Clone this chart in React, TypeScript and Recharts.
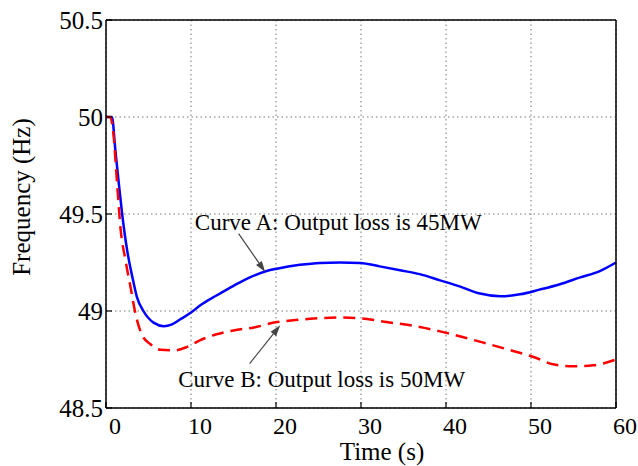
import React from 'react';
import {
  LineChart,
  Line,
  XAxis,
  YAxis,
  CartesianGrid,
  ReferenceLine,
  ReferenceDot,
} from 'recharts';

// Curve A: output loss 45MW (solid blue)
const curveATime = [0, 0.7, 1.1, 1.5, 1.9, 2.5, 3.1, 3.65, 4.4, 5.6, 6.8, 7.7, 8.7, 10, 11.1, 13, 15, 17, 18.9, 20.1, 22.8, 25.2, 27.5, 29.9, 32.2, 34.6, 36.9, 39.3, 41.6, 44, 46.4, 48.7, 51, 53.4, 55.7, 58.1, 60];
const curveAFreq = [50, 50, 49.83, 49.66, 49.5, 49.31, 49.175, 49.07, 49.0, 48.94, 48.922, 48.93, 48.956, 48.992, 49.03, 49.08, 49.13, 49.175, 49.206, 49.218, 49.238, 49.248, 49.25, 49.248, 49.23, 49.21, 49.19, 49.158, 49.127, 49.09, 49.076, 49.086, 49.11, 49.138, 49.172, 49.206, 49.25];

// Curve B: output loss 50MW (dashed red)
const curveBTime = [0, 0.5, 0.9, 1.3, 1.7, 2.3, 2.9, 3.45, 4.2, 5.2, 6.4, 8.0, 9.5, 11.1, 13, 15, 17.4, 20.1, 22, 24, 27.5, 30.7, 33, 35.8, 39.3, 41.6, 44.8, 47.9, 50.3, 52.6, 55, 57.3, 60];
const curveBFreq = [50, 50, 49.9, 49.66, 49.43, 49.26, 49.12, 48.99, 48.88, 48.83, 48.8, 48.797, 48.814, 48.85, 48.88, 48.9, 48.915, 48.943, 48.952, 48.96, 48.966, 48.959, 48.943, 48.926, 48.895, 48.87, 48.832, 48.794, 48.763, 48.725, 48.715, 48.72, 48.75];

const xTicks = [0, 10, 20, 30, 40, 50, 60];
const yTicks = [48.5, 49, 49.5, 50, 50.5];

const labelA = 'Curve A: Output loss is 45MW';
const labelB = 'Curve B: Output loss is 50MW';
// text anchor (time, freq) and arrow from -> to
const labelAPos = [10.45, 49.416];
const labelBPos = [8.5, 48.608];
const arrowA = [[15.6, 49.399], [18.73, 49.201]];
const arrowB = [[16.9, 48.729], [20.5, 48.926]];

const curveA = curveATime.map((t, i) => ({ t, f: curveAFreq[i] }));
const curveB = curveBTime.map((t, i) => ({ t, f: curveBFreq[i] }));

const FONT = '"Liberation Serif", "Times New Roman", serif';

const XTick = (props: any) => {
  const { x, y, payload } = props;
  return (
    <g>
      <line x1={x} y1={y - 10} x2={x} y2={y - 16} stroke="#000" strokeWidth={1.2} />
      <text x={x + 9} y={y + 16} textAnchor="middle" fontFamily={FONT} fontSize={24} fill="#000">
        {payload.value}
      </text>
    </g>
  );
};

const YTick = (props: any) => {
  const { x, y, payload } = props;
  return (
    <g>
      <line x1={x + 3} y1={y} x2={x + 9} y2={y} stroke="#000" strokeWidth={1.2} />
      <text x={x} y={y} dy="0.36em" textAnchor="end" fontFamily={FONT} fontSize={25} fill="#000">
        {payload.value}
      </text>
    </g>
  );
};

const Arrow = (props: any) => {
  const { x1, y1, x2, y2 } = props;
  const ang = Math.atan2(y2 - y1, x2 - x1);
  const len = 11;
  const half = 3.5;
  const bx = x2 - len * Math.cos(ang);
  const by = y2 - len * Math.sin(ang);
  const px = -Math.sin(ang) * half;
  const py = Math.cos(ang) * half;
  return (
    <g>
      <line x1={x1} y1={y1} x2={bx} y2={by} stroke="#444" strokeWidth={1.2} />
      <polygon points={`${x2},${y2} ${bx + px},${by + py} ${bx - px},${by - py}`} fill="#444" />
    </g>
  );
};

const noteShape = (text: string) => (p: any) => (
  <text x={p.cx} y={p.cy} fontFamily={FONT} fontSize={23} fill="#000">
    {text}
  </text>
);

export default function App() {
  return (
    <div style={{ position: 'absolute', left: 0, top: 0, background: '#fff' }}>
      <LineChart width={638} height={466} margin={{ top: 20, right: 22, bottom: 0, left: 0 }}>
        <CartesianGrid stroke="#777" strokeDasharray="1.5 3" strokeWidth={1} />
        <XAxis
          dataKey="t"
          type="number"
          domain={[0, 60]}
          ticks={xTicks}
          height={58}
          tickSize={0}
          tickMargin={10}
          tickLine={false}
          axisLine={{ stroke: '#000', strokeWidth: 1.5 }}
          tick={<XTick />}
          label={{
            content: (p: any) => (
              <text x={p.viewBox.x + p.viewBox.width / 2 + 21} y={p.viewBox.y + 52} textAnchor="middle" fontFamily={FONT} fontSize={25} fill="#000">
                Time (s)
              </text>
            ),
          }}
        />
        <XAxis
          xAxisId="top"
          orientation="top"
          type="number"
          domain={[0, 60]}
          ticks={xTicks}
          mirror
          tick={false}
          tickSize={6}
          tickLine={{ stroke: '#000', strokeWidth: 1.2 }}
          axisLine={{ stroke: '#000', strokeWidth: 1.5 }}
        />
        <YAxis
          type="number"
          domain={[48.5, 50.5]}
          ticks={yTicks}
          width={106}
          tickSize={0}
          tickMargin={3}
          tickLine={false}
          allowDataOverflow
          axisLine={{ stroke: '#000', strokeWidth: 1.5 }}
          tick={<YTick />}
          label={{
            content: () => (
              <text x={30} y={197} transform="rotate(-90, 30, 197)" textAnchor="middle" fontFamily={FONT} fontSize={25} fill="#000">
                Frequency (Hz)
              </text>
            ),
          }}
        />
        <YAxis
          yAxisId="right"
          orientation="right"
          type="number"
          domain={[48.5, 50.5]}
          ticks={yTicks}
          mirror
          tick={false}
          tickSize={6}
          tickLine={{ stroke: '#000', strokeWidth: 1.2 }}
          axisLine={{ stroke: '#000', strokeWidth: 1.5 }}
        />
        <Line data={curveA} dataKey="f" type="monotone" stroke="#0000ff" strokeWidth={2.5} dot={false} isAnimationActive={false} />
        <Line data={curveB} dataKey="f" type="monotone" stroke="#ff0000" strokeWidth={2.5} strokeDasharray="12 7" dot={false} isAnimationActive={false} />
        <ReferenceLine segment={[{ x: arrowA[0][0], y: arrowA[0][1] }, { x: arrowA[1][0], y: arrowA[1][1] }]} shape={<Arrow />} />
        <ReferenceLine segment={[{ x: arrowB[0][0], y: arrowB[0][1] }, { x: arrowB[1][0], y: arrowB[1][1] }]} shape={<Arrow />} />
        <ReferenceDot x={labelAPos[0]} y={labelAPos[1]} r={0} shape={noteShape(labelA)} />
        <ReferenceDot x={labelBPos[0]} y={labelBPos[1]} r={0} shape={noteShape(labelB)} />
      </LineChart>
    </div>
  );
}
